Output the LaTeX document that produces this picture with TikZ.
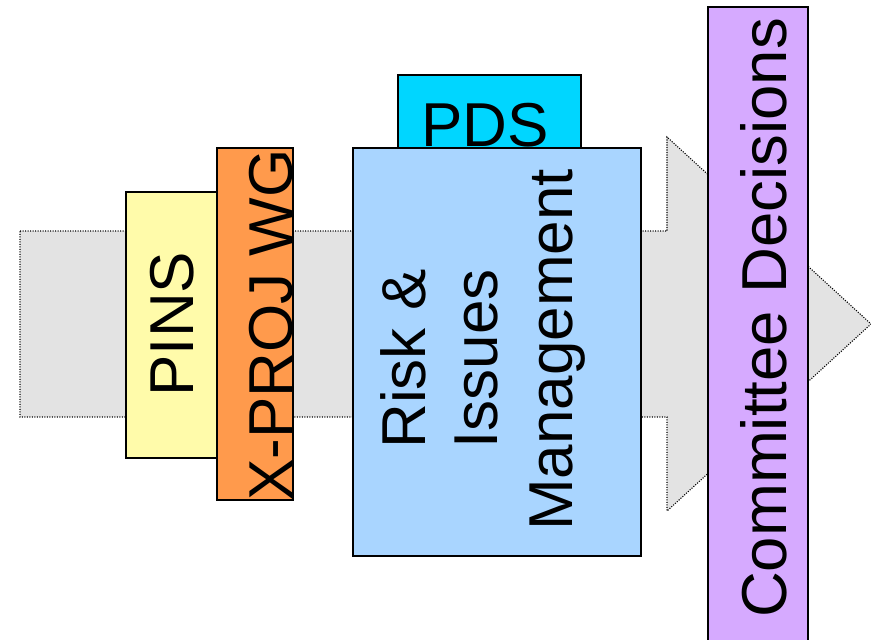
\documentclass[tikz,border=0pt]{standalone}
\usepackage{fontspec}
\setmainfont{Liberation Sans}
\definecolor{arrowgray}{HTML}{E3E3E3}
\definecolor{pinsyellow}{HTML}{FFFBAA}
\definecolor{xorange}{HTML}{FF9A4C}
\definecolor{riskblue}{HTML}{A9D5FF}
\definecolor{pdscyan}{HTML}{00D6FF}
\definecolor{comlav}{HTML}{D6AAFF}
\tikzset{
  box/.style={draw=black, line width=1.4pt},
  bigtext/.style={inner sep=0pt, font=\fontsize{62}{74}\selectfont},
  uptext/.style={bigtext, rotate=90, anchor=base},
  flowarrow/.style={fill=arrowgray, draw=black, line width=1.1pt, dash pattern=on 1.1pt off 1.4pt}
}
\begin{document}
\begin{tikzpicture}[x=1pt,y=-1pt]
\useasboundingbox (0,0) rectangle (871,640);
% big flow arrow
\coordinate (a1) at (20,231);
\coordinate (a2) at (667,231);
\coordinate (a3) at (667,137);
\coordinate (tip) at (871,324);
\coordinate (a5) at (667,511);
\coordinate (a6) at (667,417);
\coordinate (a7) at (20,417);
\filldraw[flowarrow] (a1) -- (a2) -- (a3) -- (tip) -- (a5) -- (a6) -- (a7) -- cycle;
% boxes
\filldraw[box, fill=pinsyellow] (126,192) rectangle (218,458);
\node[uptext] (pins) at (193,324) {PINS};
\filldraw[box, fill=xorange] (217,148) rectangle (293,500);
\node[uptext] (xproj) at (292,325) {X-PROJ WG};
\filldraw[box, fill=pdscyan] (398,75) rectangle (581,160);
\node[bigtext, anchor=base] (pds) at (485,146) {PDS};
\filldraw[box, fill=riskblue] (353,148) rectangle (641,556);
\node[uptext] (risk) at (425,359) {Risk \&};
\node[uptext] (issues) at (497,359) {Issues};
\node[uptext] (mgmt) at (572,350) {Management};
\filldraw[box, fill=comlav] (708,7) rectangle (808,660);
\node[uptext, font=\fontsize{63.5}{76}\selectfont] (com) at (786,318) {Committee Decisions};
\end{tikzpicture}
\end{document}
